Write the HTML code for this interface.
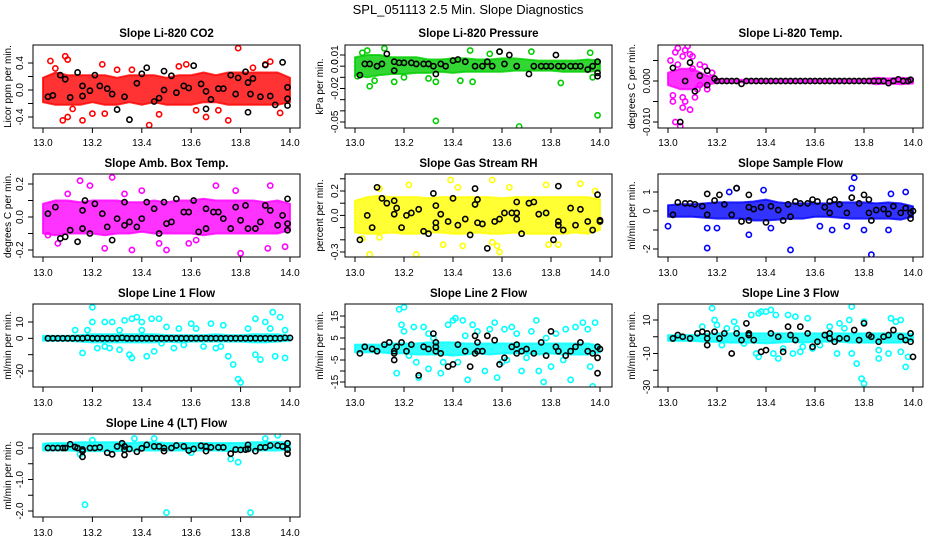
<!DOCTYPE html>
<html><head><meta charset="utf-8">
<style>
html,body{margin:0;padding:0;background:#fff;}
svg{display:block;font-family:"Liberation Sans",sans-serif;}
</style></head>
<body>
<svg id="chart" width="936" height="540" viewBox="0 0 936 540">
<text x="468" y="14" text-anchor="middle" font-size="13">SPL_051113  2.5 Min. Slope Diagnostics</text>
</svg>
<script>
// ---------- shared x axis ----------
const xTicks=[13.0,13.2,13.4,13.6,13.8,14.0];
const xTickLabels=["13.0","13.2","13.4","13.6","13.8","14.0"];
const binX=[13.0,13.05,13.1,13.15,13.2,13.25,13.3,13.35,13.4,13.45,13.5,13.55,13.6,13.65,13.7,13.75,13.8,13.85,13.9,13.95,14.0];

// ---------- CO2 ----------
const co2Lo=[-0.18,-0.22,-0.22,-0.22,-0.18,-0.22,-0.22,-0.18,-0.22,-0.18,-0.22,-0.22,-0.22,-0.18,-0.18,-0.22,-0.22,-0.22,-0.22,-0.22,-0.18];
const co2Hi=[0.18,0.26,0.22,0.22,0.22,0.22,0.18,0.22,0.22,0.22,0.18,0.22,0.22,0.26,0.22,0.26,0.26,0.26,0.26,0.26,0.18];
const co2Pts=[[13.03,0.43],[13.09,0.5],[13.1,0.45],[13.08,-0.45],[13.1,-0.4],[13.16,-0.45],[13.24,0.38],[13.25,-0.35],[13.3,0.3],[13.43,-0.52],[13.47,-0.36],[13.58,0.38],[13.66,-0.4],[13.75,-0.45],[13.79,0.62],[13.9,0.38],[13.92,0.42],[13.96,-0.34],[13.2,-0.35],[13.55,0.35],[13.05,0.32],[13.12,-0.28],[13.36,0.3],[13.62,-0.3],[13.85,0.33],[13.71,-0.3]];
const co2Blk=[[13.02,-0.1],[13.04,-0.08],[13.07,0.22],[13.09,0.16],[13.11,-0.11],[13.14,0.26],[13.16,0.06],[13.16,-0.09],[13.19,-0.01],[13.21,0.22],[13.23,0.06],[13.26,0.02],[13.28,-0.06],[13.3,-0.29],[13.33,-0.1],[13.35,-0.44],[13.38,0.1],[13.4,0.24],[13.42,0.33],[13.45,-0.17],[13.47,-0.12],[13.49,0.28],[13.49,0.0],[13.52,0.21],[13.54,-0.04],[13.57,0.06],[13.59,0.03],[13.61,0.36],[13.64,0.09],[13.66,-0.02],[13.66,-0.28],[13.68,-0.14],[13.71,0.02],[13.73,0.02],[13.76,0.22],[13.78,-0.06],[13.79,0.18],[13.82,0.27],[13.83,0.11],[13.83,-0.33],[13.84,-0.06],[13.85,0.17],[13.88,-0.1],[13.9,0.37],[13.92,-0.09],[13.94,-0.22],[13.97,0.41],[13.99,0.04],[13.99,-0.13],[13.99,-0.23]];
const co2Ticks=[-0.4,-0.2,0,0.2,0.4];
const co2Labels=["-0.4","","0.0","","0.4"];

// ---------- Pressure ----------
const prsLo=[-0.008,-0.01,-0.008,-0.007,-0.007,-0.006,-0.006,-0.005,-0.006,-0.005,-0.005,-0.005,-0.005,-0.004,-0.004,-0.004,-0.004,-0.005,-0.005,-0.005,-0.004];
const prsHi=[0.008,0.01,0.01,0.008,0.008,0.008,0.006,0.006,0.007,0.007,0.006,0.006,0.007,0.007,0.006,0.005,0.005,0.005,0.005,0.006,0.005];
const prsPts=[[13.01,-0.009],[13.03,0.012],[13.05,0.014],[13.06,-0.018],[13.12,0.016],[13.08,-0.013],[13.16,-0.014],[13.33,-0.049],[13.33,-0.014],[13.47,0.014],[13.48,-0.014],[13.67,-0.054],[13.59,0.013],[13.72,0.013],[13.99,-0.044],[13.84,-0.015],[13.96,0.012],[13.43,-0.013],[13.97,-0.01],[13.2,-0.01],[13.3,-0.011],[13.55,0.011]];
const prsBlk=[[13.02,-0.008],[13.04,0.002],[13.06,0.002],[13.09,0],[13.11,0.002],[13.13,0.011],[13.16,0.004],[13.16,-0.004],[13.18,0.003],[13.2,0.003],[13.23,0.003],[13.25,0.002],[13.28,0.002],[13.3,0.002],[13.32,0],[13.33,-0.007],[13.35,0.002],[13.37,0],[13.4,0.005],[13.42,0.006],[13.45,0.004],[13.49,0],[13.52,0],[13.54,0.004],[13.56,0],[13.59,0.013],[13.61,0.002],[13.63,0.01],[13.66,0],[13.71,-0.007],[13.73,0],[13.76,0],[13.78,0],[13.8,0],[13.82,0.01],[13.83,0],[13.85,0],[13.88,0],[13.9,0],[13.92,0],[13.95,-0.003],[13.97,0],[13.99,0.004],[13.99,-0.006],[13.99,-0.009]];
const prsTicks=[0.01,0,-0.01,-0.02,-0.03,-0.04,-0.05];
const prsLabels=["0.01","0.0","","-0.02","","","-0.05"];

// ---------- Li-820 Temp ----------
const tmpLo=[-0.001,-0.002,-0.002,-0.001,-0.0004,-0.0003,-0.0003,-0.0003,-0.0003,-0.0003,-0.0003,-0.0003,-0.0003,-0.0003,-0.0003,-0.0003,-0.0003,-0.0008,-0.0006,-0.0008,-0.0006];
const tmpHi=[0.002,0.003,0.003,0.0015,0.0005,0.0003,0.0003,0.0003,0.0003,0.0003,0.0003,0.0003,0.0003,0.0003,0.0003,0.0003,0.0003,0.0008,0.0006,0.0008,0.0006];
const tmpPts=[[13.03,-0.010],[13.05,-0.011],[13.08,0.0085],[13.03,0.007],[13.09,-0.007],[13.13,0.004],[13.06,-0.0065],[13.02,-0.005],[13.1,0.006],[13.15,0.0035],[13.01,0.005],[13.04,0.008],[13.06,0.006],[13.07,0.0075],[13.09,0.0065],[13.1,0.003],[13.06,-0.004],[13.07,-0.005],[13.02,-0.0035],[13.11,-0.004],[13.12,-0.002],[13.04,0.004],[13.13,-0.001],[13.16,-0.002],[13.18,0.002]];
const tmpBlk=[[13.02,0.0032],[13.05,-0.010],[13.07,0.0],[13.09,0.0045],[13.11,-0.0025],[13.13,0.0013],[13.16,0.0025],[13.16,-0.001],[13.19,0.0006],[13.2,0],[13.22,0],[13.24,0],[13.26,0],[13.28,0],[13.3,-0.0007],[13.32,0],[13.34,0],[13.36,0],[13.38,0],[13.4,0],[13.42,0],[13.44,0],[13.46,0],[13.48,0],[13.5,0],[13.52,0],[13.54,0],[13.56,0],[13.58,0],[13.6,0],[13.62,0],[13.64,0],[13.66,0],[13.68,0],[13.7,0],[13.72,0],[13.74,0],[13.76,0],[13.78,0],[13.8,0],[13.82,0],[13.84,0],[13.86,0],[13.88,0],[13.9,-0.0005],[13.92,0],[13.94,0.0004],[13.96,0],[13.98,0],[13.99,0.0003]];
const tmpTicks=[0.005,0,-0.005,-0.01];
const tmpLabels=["","0.000","","-0.010"];

// ---------- Amb Box Temp ----------
const ambLo=[-0.1,-0.11,-0.1,-0.1,-0.1,-0.11,-0.1,-0.1,-0.09,-0.1,-0.1,-0.1,-0.1,-0.11,-0.1,-0.1,-0.1,-0.1,-0.1,-0.1,-0.08];
const ambHi=[0.08,0.1,0.1,0.09,0.1,0.1,0.1,0.09,0.09,0.1,0.09,0.1,0.1,0.11,0.1,0.1,0.1,0.1,0.09,0.1,0.08];
const ambPts=[[13.15,0.22],[13.19,0.19],[13.28,0.24],[13.06,-0.16],[13.02,-0.11],[13.25,-0.19],[13.36,-0.2],[13.47,-0.16],[13.5,-0.2],[13.8,-0.22],[13.91,-0.19],[13.92,0.19],[13.98,-0.18],[13.7,0.19],[13.59,-0.16],[13.33,0.14],[13.4,0.16],[13.62,-0.14],[13.78,0.16],[13.1,0.14]];
const ambBlk=[[13.02,0.02],[13.05,0.06],[13.07,-0.13],[13.09,-0.12],[13.11,-0.08],[13.14,-0.15],[13.16,0.04],[13.16,-0.07],[13.17,0.1],[13.19,-0.1],[13.21,0.08],[13.24,0.02],[13.26,-0.06],[13.28,-0.14],[13.3,-0.01],[13.33,0.09],[13.33,-0.05],[13.35,-0.03],[13.38,-0.06],[13.4,-0.01],[13.42,0.09],[13.45,0.05],[13.47,-0.1],[13.49,0.09],[13.5,-0.04],[13.52,-0.03],[13.54,0.11],[13.57,0.03],[13.59,0.03],[13.61,0.1],[13.63,-0.09],[13.66,0.05],[13.66,-0.07],[13.69,0.03],[13.71,0.03],[13.73,-0.01],[13.76,-0.07],[13.78,0.06],[13.8,-0.02],[13.82,0.07],[13.83,-0.07],[13.86,-0.07],[13.88,-0.03],[13.9,0.07],[13.92,0.04],[13.95,-0.05],[13.97,0.01],[13.99,0.11],[13.99,-0.04],[13.99,-0.08]];
const ambTicks=[0.2,0.1,0,-0.1,-0.2];
const ambLabels=["0.2","","0.0","","-0.2"];

// ---------- Gas Stream RH ----------
const rhLo=[-0.14,-0.15,-0.15,-0.14,-0.15,-0.15,-0.14,-0.14,-0.15,-0.15,-0.14,-0.15,-0.15,-0.14,-0.15,-0.15,-0.15,-0.15,-0.14,-0.15,-0.12];
const rhHi=[0.12,0.15,0.16,0.15,0.15,0.15,0.14,0.15,0.15,0.15,0.15,0.15,0.14,0.15,0.15,0.15,0.15,0.15,0.15,0.15,0.13];
const rhPts=[[13.06,-0.32],[13.25,-0.32],[13.39,0.29],[13.56,0.29],[13.59,-0.3],[13.92,0.26],[13.03,-0.19],[13.1,-0.18],[13.36,-0.24],[13.44,-0.25],[13.56,-0.22],[13.79,-0.24],[13.83,-0.24],[13.42,0.23],[13.58,-0.25],[13.22,0.25],[13.1,0.22],[13.63,0.23],[13.78,0.25],[13.98,0.2]];
const rhBlk=[[13.02,-0.2],[13.05,0.0],[13.07,-0.1],[13.09,0.23],[13.11,0.14],[13.13,0.1],[13.16,0.12],[13.16,0.01],[13.17,0.06],[13.19,-0.1],[13.21,0.0],[13.23,0.02],[13.26,0.05],[13.28,-0.13],[13.3,-0.15],[13.32,0.18],[13.33,0.08],[13.33,-0.06],[13.33,-0.1],[13.35,0.01],[13.38,-0.05],[13.4,0.14],[13.42,-0.08],[13.45,-0.03],[13.47,-0.16],[13.49,0.22],[13.49,0.09],[13.5,0.13],[13.5,-0.06],[13.52,-0.07],[13.54,-0.27],[13.57,-0.05],[13.59,-0.03],[13.61,0.02],[13.64,0.02],[13.66,0.02],[13.66,0.11],[13.66,-0.03],[13.68,-0.15],[13.71,0.1],[13.73,0.11],[13.75,0.01],[13.78,0.02],[13.81,-0.2],[13.83,0.24],[13.83,-0.05],[13.83,-0.08],[13.85,-0.12],[13.88,0.06],[13.9,-0.08],[13.92,0.05],[13.95,-0.05],[13.97,-0.12],[13.99,0.17],[14.0,-0.04],[14.0,-0.05]];
const rhTicks=[0.3,0.2,0.1,0,-0.1,-0.2,-0.3];
const rhLabels=["","0.2","","0.0","","","-0.3"];

// ---------- Sample Flow ----------
const sfLo=[-0.3,-0.3,-0.3,-0.35,-0.4,-0.4,-0.4,-0.5,-0.5,-0.45,-0.4,-0.4,-0.3,-0.3,-0.35,-0.4,-0.4,-0.4,-0.4,-0.45,-0.3];
const sfHi=[0.3,0.35,0.35,0.4,0.45,0.45,0.45,0.5,0.6,0.45,0.4,0.4,0.4,0.4,0.45,0.45,0.45,0.4,0.45,0.4,0.25];
const sfPts=[[13.0,-0.8],[13.16,-1.95],[13.16,-0.9],[13.33,-1.25],[13.5,-2.05],[13.76,1.75],[13.83,-2.3],[13.75,1.2],[13.9,-1.0],[13.67,-1.0],[13.28,1.2],[13.39,1.1],[13.2,-0.9],[13.97,1.0],[13.73,-0.8],[13.8,-1.0],[13.91,0.9],[13.25,1.0],[13.42,-0.9],[13.62,-0.8]];
const sfBlk=[[13.02,-0.2],[13.04,0.45],[13.07,0.4],[13.09,0.4],[13.11,0.35],[13.14,0.25],[13.16,0.9],[13.16,-0.2],[13.19,0.55],[13.21,0.85],[13.23,0.35],[13.26,-0.2],[13.28,1.2],[13.3,-0.55],[13.33,0.85],[13.33,0.2],[13.33,-0.5],[13.35,0.1],[13.38,0.2],[13.4,-0.6],[13.42,0.25],[13.45,0.05],[13.47,-0.5],[13.49,0.35],[13.5,-0.3],[13.52,0.5],[13.54,0.4],[13.57,0.4],[13.59,0.6],[13.61,0.5],[13.64,0.2],[13.66,0.5],[13.66,-0.1],[13.68,0.6],[13.7,0.35],[13.73,-0.1],[13.75,0.7],[13.78,0.4],[13.8,0.85],[13.82,0.6],[13.82,-0.1],[13.83,-0.5],[13.85,0.05],[13.88,0.1],[13.9,-0.15],[13.92,0.25],[13.95,-0.1],[13.97,0.15],[13.99,-0.1],[13.99,-0.4],[14.0,0.0]];
const sfTicks=[1,0,-1,-2];
const sfLabels=["1","0","","-2"];

// ---------- Line 1 Flow ----------
const l1Lo=[-1.5,-1.5,-1.5,-2,-2.5,-2.5,-2.5,-2.5,-2.5,-2.5,-2,-2.5,-2,-2,-2,-2,-2,-2.5,-2.5,-2,-1.5];
const l1Hi=[1.5,1.5,1.5,2,2.5,2.5,2.5,2.5,2.5,2.5,2,2,2,2,2.5,2,2,2.5,2.5,2.5,1.5];
const l1Pts=[[13.2,19],[13.2,10],[13.16,-9],[13.25,10],[13.28,10],[13.33,11],[13.36,12],[13.38,13],[13.35,-10],[13.36,-12],[13.4,10],[13.42,-11],[13.44,12],[13.47,12],[13.45,-8],[13.31,-7],[13.27,-6],[13.22,-6],[13.5,7],[13.53,-6],[13.6,9],[13.68,9],[13.73,8],[13.75,-11],[13.77,-16],[13.79,-25],[13.8,-27],[13.86,12],[13.86,-10],[13.88,-13],[13.9,10],[13.93,16],[13.94,-11],[13.96,13],[13.98,-12],[13.98,5],[13.55,6],[13.65,-5],[13.83,6],[13.72,-5],[13.4,5],[13.57,-4],[13.48,-3],[13.25,-5],[13.31,5],[13.13,5],[13.18,5],[13.62,6],[13.7,-6],[13.92,6]];
const l1Blk=[[13.02,0],[13.04,0],[13.06,0],[13.08,0],[13.1,0],[13.12,0],[13.14,0],[13.16,0],[13.18,0.3],[13.2,0],[13.22,0],[13.24,0],[13.26,0],[13.28,0],[13.3,0],[13.32,0.3],[13.34,0],[13.36,0],[13.38,0],[13.4,0],[13.42,0],[13.44,0],[13.46,0],[13.48,0],[13.5,0],[13.52,0],[13.54,0],[13.56,0],[13.58,0],[13.6,0],[13.62,0],[13.64,0],[13.66,0],[13.68,0],[13.7,0],[13.72,0],[13.74,0],[13.76,0],[13.78,0],[13.8,0],[13.82,0],[13.84,0],[13.86,0],[13.88,0],[13.9,0],[13.92,0],[13.94,0],[13.96,0],[13.98,0.3],[14.0,0.3]];
const l1Ticks=[10,0,-10,-20];
const l1Labels=["10","0","","-20"];

// ---------- Line 2 Flow ----------
const l2Lo=[-1.5,-1.5,-1.5,-2,-2,-2.5,-2.5,-2.5,-3,-2.5,-2,-2.5,-2,-2,-2,-2.5,-2,-2.5,-2.5,-2.5,-1.5];
const l2Hi=[2,2,2,2.5,2.5,2.5,3,3,3,2.5,2.5,2.5,2.5,2.5,2.5,2.5,2.5,2.5,2.5,2.5,1.5];
const l2Pts=[[13.18,18],[13.2,19],[13.19,11],[13.2,8],[13.24,10],[13.28,10],[13.3,7],[13.32,5],[13.17,-11],[13.26,-13],[13.3,-9],[13.35,-11],[13.38,11],[13.4,13],[13.41,14],[13.44,13],[13.46,-14],[13.48,11],[13.5,8],[13.53,-10],[13.55,9],[13.57,12],[13.58,-13],[13.61,9],[13.64,10],[13.66,7],[13.68,-10],[13.72,8],[13.74,13],[13.75,-10],[13.77,-15],[13.8,-8],[13.82,7],[13.86,9],[13.88,-14],[13.9,10],[13.93,12],[13.95,9],[13.96,-8],[13.97,-17],[13.98,12],[13.36,-6],[13.42,-6],[13.25,-6],[13.22,-3],[13.62,-5],[13.7,-4],[13.85,-5],[13.78,5],[13.45,6],[13.6,-6]];
const l2Blk=[[13.02,-2],[13.04,1],[13.07,0],[13.09,-1],[13.12,2],[13.14,3],[13.16,-1],[13.16,-2],[13.16,-5],[13.17,1],[13.19,3],[13.21,-1],[13.23,2],[13.26,-12],[13.28,1],[13.3,0],[13.32,7],[13.33,3],[13.33,1],[13.33,-1],[13.35,-2],[13.38,-8],[13.4,-7],[13.42,2],[13.45,-1],[13.47,-8],[13.49,6],[13.49,-2],[13.5,3],[13.5,-1],[13.52,-1],[13.54,6],[13.57,4],[13.59,-7],[13.61,-4],[13.64,1],[13.66,2],[13.66,-2],[13.68,-1],[13.7,0],[13.73,-2],[13.76,3],[13.78,-3],[13.8,8],[13.82,1],[13.83,-1],[13.86,-3],[13.88,-1],[13.9,1],[13.92,3],[13.95,-1],[13.97,-2],[13.99,-4],[13.99,1],[14.0,0],[13.99,-11]];
const l2Ticks=[15,10,5,0,-5,-10,-15];
const l2Labels=["15","","5","","-5","","-15"];

// ---------- Line 3 Flow ----------
const l3Lo=[-2.5,-2.5,-2.5,-3,-3,-3.5,-3.5,-3.5,-4,-3.5,-3,-3.5,-3,-3,-3,-3.5,-3.5,-3.5,-3.5,-3.5,-2.5];
const l3Hi=[1,1,1,1.5,2,2,2,2,2,2,2,2,2,2,2,2,2,2,2,2,1.5];
const l3Pts=[[13.18,17],[13.19,10],[13.14,6],[13.2,7],[13.27,9],[13.28,5],[13.34,13],[13.37,14],[13.38,15],[13.4,15],[13.42,16],[13.44,13],[13.49,13],[13.52,12],[13.57,11],[13.7,8],[13.74,10],[13.75,18],[13.8,9],[13.91,11],[13.93,9],[13.95,10],[13.36,-10],[13.37,-12],[13.43,-10],[13.45,-13],[13.51,-10],[13.54,-9],[13.59,-7],[13.69,-10],[13.75,-10],[13.77,-16],[13.79,-25],[13.8,-28],[13.86,-13],[13.9,-10],[13.97,-18],[13.98,-12],[13.95,-9],[13.22,-5],[13.31,-4],[13.47,-7],[13.62,-5],[13.72,5],[13.86,-8],[13.24,5],[13.55,-6],[13.66,6]];
const l3Blk=[[13.02,-1],[13.04,1],[13.06,0],[13.09,-1],[13.12,2],[13.14,3],[13.16,2],[13.16,-1],[13.16,-5],[13.19,3],[13.21,-1],[13.23,2],[13.26,-10],[13.28,2],[13.3,-2],[13.32,8],[13.33,2],[13.33,1],[13.35,-2],[13.38,-9],[13.4,-8],[13.42,2],[13.45,0],[13.47,-9],[13.49,6],[13.5,1],[13.52,-2],[13.54,6],[13.57,2],[13.59,-6],[13.61,-3],[13.64,1],[13.66,2],[13.66,-1],[13.68,-3],[13.7,-1],[13.73,-1],[13.76,4],[13.78,-2],[13.8,8],[13.82,1],[13.83,0],[13.86,-3],[13.88,0],[13.9,1],[13.92,4],[13.95,0],[13.97,-2],[13.99,2],[13.99,-3],[14.0,-12]];
const l3Ticks=[10,0,-10,-20,-30];
const l3Labels=["10","","-10","","-30"];

// ---------- Line 4 (LT) Flow ----------
const l4Lo=[-0.08,-0.08,-0.08,-0.1,-0.1,-0.1,-0.1,-0.09,-0.08,-0.08,-0.08,-0.08,-0.08,-0.08,-0.08,-0.1,-0.1,-0.08,-0.08,-0.08,-0.06];
const l4Hi=[0.14,0.16,0.16,0.18,0.18,0.18,0.18,0.16,0.18,0.18,0.16,0.16,0.16,0.16,0.16,0.16,0.16,0.18,0.18,0.2,0.16];
const l4Pts=[[13.17,-1.8],[13.5,-2.05],[13.84,-2.05],[13.76,-0.35],[13.79,-0.45],[13.37,0.3],[13.95,0.4],[13.2,0.25],[13.45,0.3],[13.9,0.3],[13.15,-0.2],[13.6,-0.15]];
const l4Blk=[[13.02,0],[13.04,0],[13.06,0],[13.08,0],[13.09,0],[13.11,0.12],[13.13,0.03],[13.14,0],[13.16,-0.05],[13.16,-0.28],[13.16,-0.1],[13.19,0],[13.21,0],[13.23,0.02],[13.26,-0.15],[13.28,-0.2],[13.3,0.05],[13.32,0.15],[13.33,0.05],[13.33,-0.22],[13.33,-0.05],[13.35,-0.03],[13.38,-0.12],[13.4,-0.01],[13.42,0.1],[13.45,0.05],[13.47,0.05],[13.49,0],[13.49,-0.1],[13.52,0],[13.54,0.08],[13.57,0.05],[13.59,-0.08],[13.61,-0.03],[13.64,0.07],[13.66,0.05],[13.66,-0.1],[13.68,0.02],[13.71,0.02],[13.73,0.02],[13.76,-0.18],[13.78,-0.05],[13.8,-0.06],[13.82,-0.05],[13.83,0.1],[13.83,-0.03],[13.86,-0.1],[13.88,0.02],[13.9,0.02],[13.92,0.08],[13.95,0.08],[13.97,0.05],[13.99,0.15],[13.99,-0.05],[13.99,-0.18]];
const l4Ticks=[0,-0.5,-1,-1.5,-2];
const l4Labels=["0.0","","-1.0","","-2.0"];

// ---------- layout ----------
const NS="http://www.w3.org/2000/svg";
const svg=document.getElementById("chart");
const cols=[{bl:33,br:300,x0:43,x1:290,tl:20,at:8},{bl:345,br:612,x0:355,x1:600,tl:335,at:320},{bl:658,br:923,x0:668,x1:913,tl:647,at:632}];
const rows=[{top:45,bot:128,title:37,xl:146},{top:174,bot:257,title:167,xl:276},{top:304,bot:387,title:297,xl:406},{top:434,bot:517,title:427,xl:536}];
const panels=[
 {key:"co2",title:"Slope Li-820 CO2",ylab:"Licor ppm per min.",c:0,r:0,col:"#ff0000",v0:0.4,p0:63,v1:-0.4,p1:117,lo:co2Lo,hi:co2Hi,pts:co2Pts,blk:co2Blk,tk:co2Ticks,tl:co2Labels},
 {key:"pressure",title:"Slope Li-820 Pressure",ylab:"kPa per min.",c:1,r:0,col:"#00cd00",v0:0.01,p0:55,v1:-0.05,p1:122,lo:prsLo,hi:prsHi,pts:prsPts,blk:prsBlk,tk:prsTicks,tl:prsLabels},
 {key:"li820-temp",title:"Slope Li-820 Temp.",ylab:"degrees C per min.",c:2,r:0,col:"#ff00ff",v0:0,p0:81,v1:-0.01,p1:122,lo:tmpLo,hi:tmpHi,pts:tmpPts,blk:tmpBlk,tk:tmpTicks,tl:tmpLabels},
 {key:"amb-box-temp",title:"Slope Amb. Box Temp.",ylab:"degrees C per min.",c:0,r:1,col:"#ff00ff",v0:0.2,p0:184,v1:-0.2,p1:250,lo:ambLo,hi:ambHi,pts:ambPts,blk:ambBlk,tk:ambTicks,tl:ambLabels},
 {key:"gas-stream-rh",title:"Slope Gas Stream RH",ylab:"percent per min.",c:1,r:1,col:"#ffff00",v0:0.2,p0:191,v1:-0.3,p1:252,lo:rhLo,hi:rhHi,pts:rhPts,blk:rhBlk,tk:rhTicks,tl:rhLabels},
 {key:"sample-flow",title:"Slope Sample Flow",ylab:"ml/min per min.",c:2,r:1,col:"#0000ff",v0:1,p0:192,v1:-2,p1:249,lo:sfLo,hi:sfHi,pts:sfPts,blk:sfBlk,tk:sfTicks,tl:sfLabels},
 {key:"line1-flow",title:"Slope Line 1 Flow",ylab:"ml/min per min.",c:0,r:2,col:"#00ffff",v0:10,p0:322,v1:-20,p1:371,lo:l1Lo,hi:l1Hi,pts:l1Pts,blk:l1Blk,tk:l1Ticks,tl:l1Labels},
 {key:"line2-flow",title:"Slope Line 2 Flow",ylab:"ml/min per min.",c:1,r:2,col:"#00ffff",v0:15,p0:316,v1:-15,p1:382,lo:l2Lo,hi:l2Hi,pts:l2Pts,blk:l2Blk,tk:l2Ticks,tl:l2Labels},
 {key:"line3-flow",title:"Slope Line 3 Flow",ylab:"ml/min per min.",c:2,r:2,col:"#00ffff",v0:10,p0:320,v1:-30,p1:387,lo:l3Lo,hi:l3Hi,pts:l3Pts,blk:l3Blk,tk:l3Ticks,tl:l3Labels},
 {key:"line4-flow",title:"Slope Line 4 (LT) Flow",ylab:"ml/min per min.",c:0,r:3,col:"#00ffff",v0:0,p0:448,v1:-2,p1:511,lo:l4Lo,hi:l4Hi,pts:l4Pts,blk:l4Blk,tk:l4Ticks,tl:l4Labels}
];
function mk(tag,attrs,parent){const e=document.createElementNS(NS,tag);for(const k in attrs)e.setAttribute(k,attrs[k]);(parent||svg).appendChild(e);return e;}

panels.forEach((p,i)=>{
 const C=cols[p.c],R=rows[p.r];
 const xs=v=>C.x0+(v-13)*(C.x1-C.x0);
 const ys=v=>p.p0+(v-p.v0)*(p.p1-p.p0)/(p.v1-p.v0);
 const g=mk("g",{});
 
 
 const cp=mk("clipPath",{id:"cp"+i},g);
 mk("rect",{x:C.bl,y:R.top,width:C.br-C.bl,height:R.bot-R.top},cp);
 const t=mk("text",{x:(C.bl+C.br)/2,y:R.title,"text-anchor":"middle","font-size":"11.5","font-weight":"bold"},g);
 t.textContent=p.title;
 
 
 const data=mk("g",{"clip-path":"url(#cp"+i+")"},g);
 let d="";
 binX.forEach((x,k)=>{d+=(k?"L":"M")+xs(x).toFixed(1)+","+ys(p.hi[k]).toFixed(1);});
 for(let k=binX.length-1;k>=0;k--)d+="L"+xs(binX[k]).toFixed(1)+","+ys(p.lo[k]).toFixed(1);
 const band=mk("path",{d:d+"Z",fill:p.col,"fill-opacity":"0.8",stroke:p.col,"stroke-width":"2","stroke-opacity":"0.8","stroke-linejoin":"round"},data);
 
 
 p.pts.forEach(q=>{
  const c=mk("circle",{cx:xs(q[0]),cy:ys(q[1]),r:2.6,fill:"none",stroke:p.col,"stroke-width":"1.6"},data);
  
  
 });
 p.blk.forEach(q=>{
  const c=mk("circle",{cx:xs(q[0]),cy:ys(q[1]),r:2.6,fill:"none",stroke:"#000","stroke-width":"1.6"},data);
  
  
 });
 const box=mk("rect",{x:C.bl,y:R.top,width:C.br-C.bl,height:R.bot-R.top,fill:"none",stroke:"#000","stroke-width":"1"},g);
 
 
 xTicks.forEach((v,k)=>{
  mk("line",{x1:xs(v),x2:xs(v),y1:R.bot,y2:R.bot+5,stroke:"#000"},g);
  const tx=mk("text",{x:xs(v),y:R.xl,"text-anchor":"middle","font-size":"10"},g);
  tx.textContent=xTickLabels[k];
  
  
 });
 p.tk.forEach((v,k)=>{
  const y=ys(v);
  mk("line",{x1:C.bl-5,x2:C.bl,y1:y,y2:y,stroke:"#000"},g);
  if(p.tl[k]){
   const ty=mk("text",{x:C.tl,y:y,"text-anchor":"middle","font-size":"10",transform:"rotate(-90 "+C.tl+" "+y+")",dy:"3"},g);
   ty.textContent=p.tl[k];
   
   
  }
 });
 const ym=(R.top+R.bot)/2;
 const yt=mk("text",{x:C.at,y:ym,"text-anchor":"middle","font-size":"10",transform:"rotate(-90 "+C.at+" "+ym+")",dy:"3"},g);
 yt.textContent=p.ylab;
 
 
});
</script>
</body></html>
